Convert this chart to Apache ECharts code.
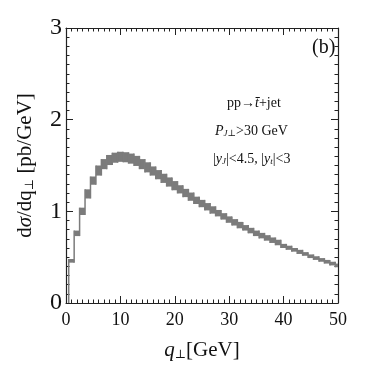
<!DOCTYPE html>
<html>
<head>
<meta charset="utf-8">
<script src="https://cdn.jsdelivr.net/npm/echarts@6/dist/echarts.min.js"></script>
<style>
  html, body { margin: 0; padding: 0; background: #fff; }
  #chart { width: 366px; height: 366px; }
</style>
</head>
<body>
<div id="chart"></div>
<script>
// bin centres (GeV), 1 GeV wide bins
var qBins = [1, 2, 3, 4, 5, 6, 7, 8, 9, 10,
	11, 12, 13, 14, 15, 16, 17, 18, 19, 20,
	21, 22, 23, 24, 25, 26, 27, 28, 29, 30,
	31, 32, 33, 34, 35, 36, 37, 38, 39, 40,
	41, 42, 43, 44, 45, 46, 47, 48, 49, 50]
// lower edge of the band
var bandLow = [0.44, 0.73, 0.96, 1.14, 1.29, 1.39, 1.46, 1.505, 1.53, 1.54,
	1.535, 1.52, 1.495, 1.46, 1.425, 1.39, 1.35, 1.31, 1.27, 1.23,
	1.195, 1.155, 1.115, 1.08, 1.045, 1.01, 0.975, 0.945, 0.91, 0.875,
	0.845, 0.815, 0.79, 0.76, 0.73, 0.705, 0.68, 0.655, 0.63, 0.60,
	0.58, 0.56, 0.535, 0.515, 0.49, 0.47, 0.45, 0.43, 0.41, 0.39]
// upper edge of the band
var bandHigh = [0.48, 0.79, 1.04, 1.24, 1.38, 1.50, 1.57, 1.615, 1.64, 1.65,
	1.645, 1.63, 1.605, 1.57, 1.535, 1.49, 1.45, 1.41, 1.37, 1.33,
	1.285, 1.245, 1.205, 1.16, 1.125, 1.09, 1.055, 1.015, 0.98, 0.945,
	0.915, 0.885, 0.85, 0.82, 0.79, 0.765, 0.74, 0.715, 0.69, 0.645,
	0.625, 0.60, 0.58, 0.555, 0.53, 0.51, 0.49, 0.47, 0.45, 0.43]
var xTicks = [0, 10, 20, 30, 40, 50]
var yTicks = [0, 1, 2, 3]

var bandColor = '#7b7b7b'
var serif = '"Liberation Serif", "DejaVu Serif", serif'

var bandData = []
for (var i = 0; i < qBins.length; i++) {
	bandData.push([qBins[i], bandLow[i], bandHigh[i]])
}

// one rect per bin + vertical step edge on its left
function renderBand(params, api) {
	var i = params.dataIndex
	var c = api.value(0)
	var lo = api.value(1)
	var hi = api.value(2)
	var prevLo = i > 0 ? bandLow[i - 1] : 0
	var prevHi = i > 0 ? bandHigh[i - 1] : 0
	var p0 = api.coord([c - 0.5, hi])
	var p1 = api.coord([c + 0.5, lo])
	var cs = params.coordSys
	var rect = echarts.graphic.clipRectByRect(
		{ x: p0[0], y: p0[1], width: p1[0] - p0[0], height: p1[1] - p0[1] },
		{ x: cs.x, y: cs.y, width: cs.width, height: cs.height })
	var e0 = api.coord([c - 0.5, Math.min(prevLo, lo)])
	var e1 = api.coord([c - 0.5, Math.max(prevHi, hi)])
	return {
		type: 'group',
		children: [
			{ type: 'rect', shape: rect, style: { fill: bandColor } },
			{ type: 'line', shape: { x1: e0[0], y1: e0[1], x2: e1[0], y2: e1[1] },
				style: { stroke: bandColor, lineWidth: 1.5 } }
		]
	}
}

function frameAxis(pos, isX, showLabel) {
	var ax = {
		type: 'value',
		position: pos,
		min: isX ? xTicks[0] : yTicks[0],
		max: isX ? xTicks[xTicks.length - 1] : yTicks[yTicks.length - 1],
		interval: isX ? 10 : 1,
		axisLine: { show: true, onZero: false, lineStyle: { color: '#222', width: 1.2 } },
		axisTick: { show: true, inside: true, length: 7, lineStyle: { color: '#222', width: 1 } },
		minorTick: { show: true, splitNumber: 10, length: 3.5, lineStyle: { color: '#222', width: 1 } },
		splitLine: { show: false },
		axisLabel: {
			show: showLabel,
			fontFamily: serif,
			color: '#111',
			fontSize: isX ? 18 : 24,
			margin: isX ? 8 : 4
		}
	}
	return ax
}

var xBottom = frameAxis('bottom', true, true)
xBottom.name = '{i|q}{s|⊥}{n|[GeV]}'
xBottom.nameLocation = 'middle'
xBottom.nameGap = 36
xBottom.nameTextStyle = {
	rich: {
		i: { fontFamily: serif, fontStyle: 'italic', fontSize: 21, color: '#111' },
		s: { fontFamily: serif, fontSize: 12, color: '#111', padding: [10, 0, 0, 0] },
		n: { fontFamily: serif, fontSize: 21, color: '#111' }
	}
}

var yLeft = frameAxis('left', false, true)
yLeft.name = '{n|d}{i|σ}{n|/dq}{s|⊥}{n| [pb/GeV]}'
yLeft.nameLocation = 'middle'
yLeft.nameRotate = 90
yLeft.nameGap = 30
yLeft.nameTextStyle = {
	rich: {
		i: { fontFamily: serif, fontStyle: 'italic', fontSize: 21, color: '#111' },
		s: { fontFamily: serif, fontSize: 12, color: '#111', padding: [10, 0, 0, 0] },
		n: { fontFamily: serif, fontSize: 21, color: '#111' }
	}
}

var option = {
	animation: false,
	backgroundColor: '#fff',
	grid: { left: 66, right: 28, top: 28, bottom: 60, containLabel: false },
	xAxis: [xBottom, frameAxis('top', true, false)],
	yAxis: [yLeft, frameAxis('right', false, false)],
	series: [{
		type: 'custom',
		xAxisIndex: 0,
		yAxisIndex: 0,
		renderItem: renderBand,
		encode: { x: 0, y: [1, 2] },
		data: bandData
	}],
	graphic: [
		{ type: 'text', left: 312, top: 38,
			style: { text: '(b)', fontFamily: serif, fontSize: 20, fill: '#111' } },
		{ type: 'text', left: 227, top: 96,
			style: { text: '{n|pp→}{i|t\u0304}{n|+jet}', fill: '#111',
				rich: {
					n: { fontFamily: serif, fontSize: 14 },
					i: { fontFamily: serif, fontSize: 14, fontStyle: 'italic' }
				} } },
		{ type: 'text', left: 215, top: 124,
			style: { text: '{i|P}{s|J⊥}{n|>30 GeV}', fill: '#111',
				rich: {
					i: { fontFamily: serif, fontSize: 14, fontStyle: 'italic' },
					s: { fontFamily: serif, fontSize: 9, fontStyle: 'italic', padding: [6, 0, 0, 0] },
					n: { fontFamily: serif, fontSize: 14 }
				} } },
		{ type: 'text', left: 213, top: 152,
			style: { text: '{n||}{i|y}{s|J}{n||<4.5, |}{i|y}{s|t}{n||<3}', fill: '#111',
				rich: {
					i: { fontFamily: serif, fontSize: 14, fontStyle: 'italic' },
					s: { fontFamily: serif, fontSize: 9, fontStyle: 'italic', padding: [6, 0, 0, 0] },
					n: { fontFamily: serif, fontSize: 14 }
				} } }
	]
}

var chart = echarts.init(document.getElementById('chart'))
chart.setOption(option)
</script>
</body>
</html>
